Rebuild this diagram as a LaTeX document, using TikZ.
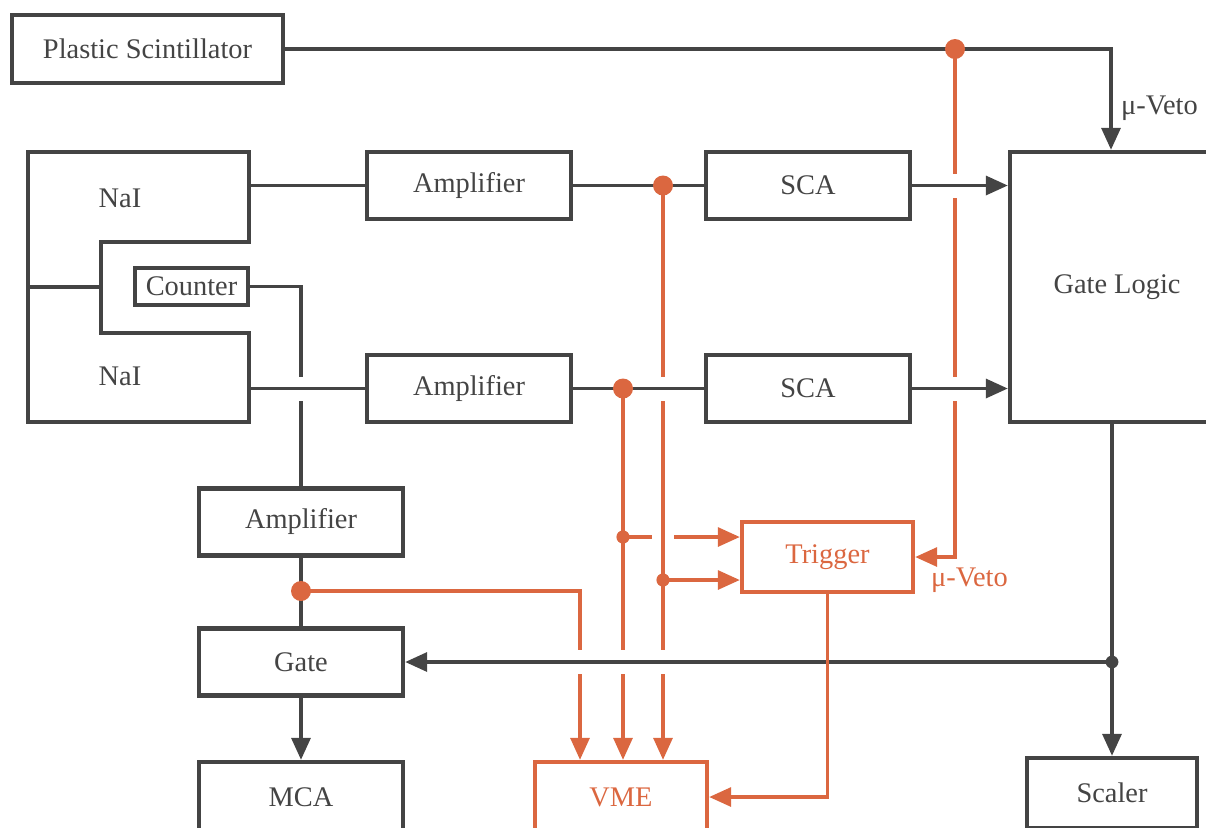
\documentclass[tikz,border=0pt]{standalone}
\usepackage{fontspec}
\setmainfont{Liberation Serif}
\usetikzlibrary{arrows.meta}
\definecolor{dark}{RGB}{68,68,68}
\definecolor{rust}{RGB}{219,103,64}

\begin{document}
\begin{tikzpicture}[x=0.5pt, y=-0.5pt,
    every node/.style={font={\fontsize{14.2}{17}\selectfont}, text=dark},
    box/.style={draw=dark, line width=2.2pt, minimum width=102pt, minimum height=33.5pt, inner sep=0pt},
    obox/.style={box, draw=rust, text=rust},
    conn/.style={draw=dark, line width=1.7pt},
    oconn/.style={draw=rust, line width=1.6pt},
    tip/.style={-{Triangle[length=11pt,width=9.5pt]}}]
    \useasboundingbox (0,0) rectangle (1206,827);
    \clip (0,0) rectangle (1206,827);

    % Detectors
    \node[box, minimum width=135.5pt, minimum height=34pt] (plastic) at (147.5,49) {Plastic Scintillator};
    \draw[conn, line width=2.2pt] (28,152) -- (249,152) -- (249,242) -- (101,242) -- (101,333)
        -- (249,333) -- (249,422) -- (28,422) -- cycle;
    \draw[conn] (28,287) -- (101,287);
    \node (nai1) at (120,198) {NaI};
    \node (nai2) at (120,376) {NaI};
    \coordinate (nai1out) at (249,185.5);
    \coordinate (nai2out) at (249,388.5);
    \node[box, minimum width=56.5pt, minimum height=18.5pt] (counter) at (191.5,286.5) {Counter};

    % Amplifiers and SCAs
    \node[box] (amp1) at (469,185.5) {Amplifier};
    \node[box] (sca1) at (808,185.5) {SCA};
    \node[box] (amp2) at (469,388.5) {Amplifier};
    \node[box] (sca2) at (808,388.5) {SCA};
    \node[box, minimum width=107pt, minimum height=135pt] (logic) at (1117,287) {Gate Logic};
    \node[box] (amp3) at (301,522) {Amplifier};
    \node[box] (gate) at (301,662) {Gate};

    % Outputs
    \node[box, minimum height=35pt] (mca) at (301,797) {MCA};
    \node[obox, minimum width=86pt, minimum height=35pt] (vme) at (621,797) {VME};
    \node[obox, minimum width=85.5pt, minimum height=35pt] (trigger) at (827.5,557) {Trigger};
    \node[box, minimum width=85pt, minimum height=35pt] (scaler) at (1112,793) {Scaler};

    % Taps
    \coordinate (tap1) at (663,185.5);
    \coordinate (tap2) at (623,388.5);
    \coordinate (tap3) at (301,591);
    \coordinate (tap4) at (623,537);
    \coordinate (tap5) at (663,580);
    \coordinate (veto) at (955,49);
    \coordinate (split) at (scaler.north |- gate.east);

    % Orange signal lines
    \draw[oconn, tip] (tap4) -- (tap4 -| trigger.west);
    \fill[white] (652,531) rectangle (674,543);
    \draw[conn] (counter.east) -| (amp3.north);
    \draw[oconn, tip] (tap1) -- (tap1 |- vme.north);
    \draw[oconn, tip] (tap2) -- (tap2 |- vme.north);
    \draw[oconn, tip] (tap3) -| ([xshift=-20.5pt]vme.north);
    \draw[oconn, tip] (tap5) -- (tap5 -| trigger.west);
    \draw[oconn, tip] (veto) |- (trigger.east);

    % Gaps at crossings
    \foreach \x/\y in {301/388.5, 663/388.5, 955/185.5, 955/388.5, 580/662, 623/662, 663/662}
        \fill[white] (\x-8,\y-12) rectangle (\x+8,\y+12);

    % Main chain
    \draw[conn] (nai1out) -- (nai1out -| amp1.west);
    \draw[conn] (nai2out) -- (nai2out -| amp2.west);
    \draw[conn] (amp1) -- (sca1);
    \draw[conn] (amp2) -- (sca2);
    \draw[conn, tip] (sca1) -- (sca1 -| logic.west);
    \draw[conn, tip] (sca2) -- (sca2 -| logic.west);
    \draw[conn, tip] (plastic.east) -| ([xshift=-3pt]logic.north);
    \node[anchor=west] (vetolabel) at (1114,108) {μ-Veto};
    \draw[conn] (amp3) -- (gate);
    \draw[conn, tip] (gate) -- (mca);
    \draw[conn, tip] (split) -- (gate.east);
    \draw[conn, tip] (scaler.north |- logic.south) -- (scaler.north);
    \fill[dark] (split) circle (3.2pt);

    % Trigger to VME
    \draw[oconn, tip] (trigger.south) |- (vme.east);
    \node[anchor=west, text=rust] (ovetolabel) at (924,580) {μ-Veto};
    \foreach \t in {tap1, tap2, tap3, veto}
        \fill[rust] (\t) circle (5pt);
    \foreach \t in {tap4, tap5}
        \fill[rust] (\t) circle (3.3pt);
\end{tikzpicture}
\end{document}
